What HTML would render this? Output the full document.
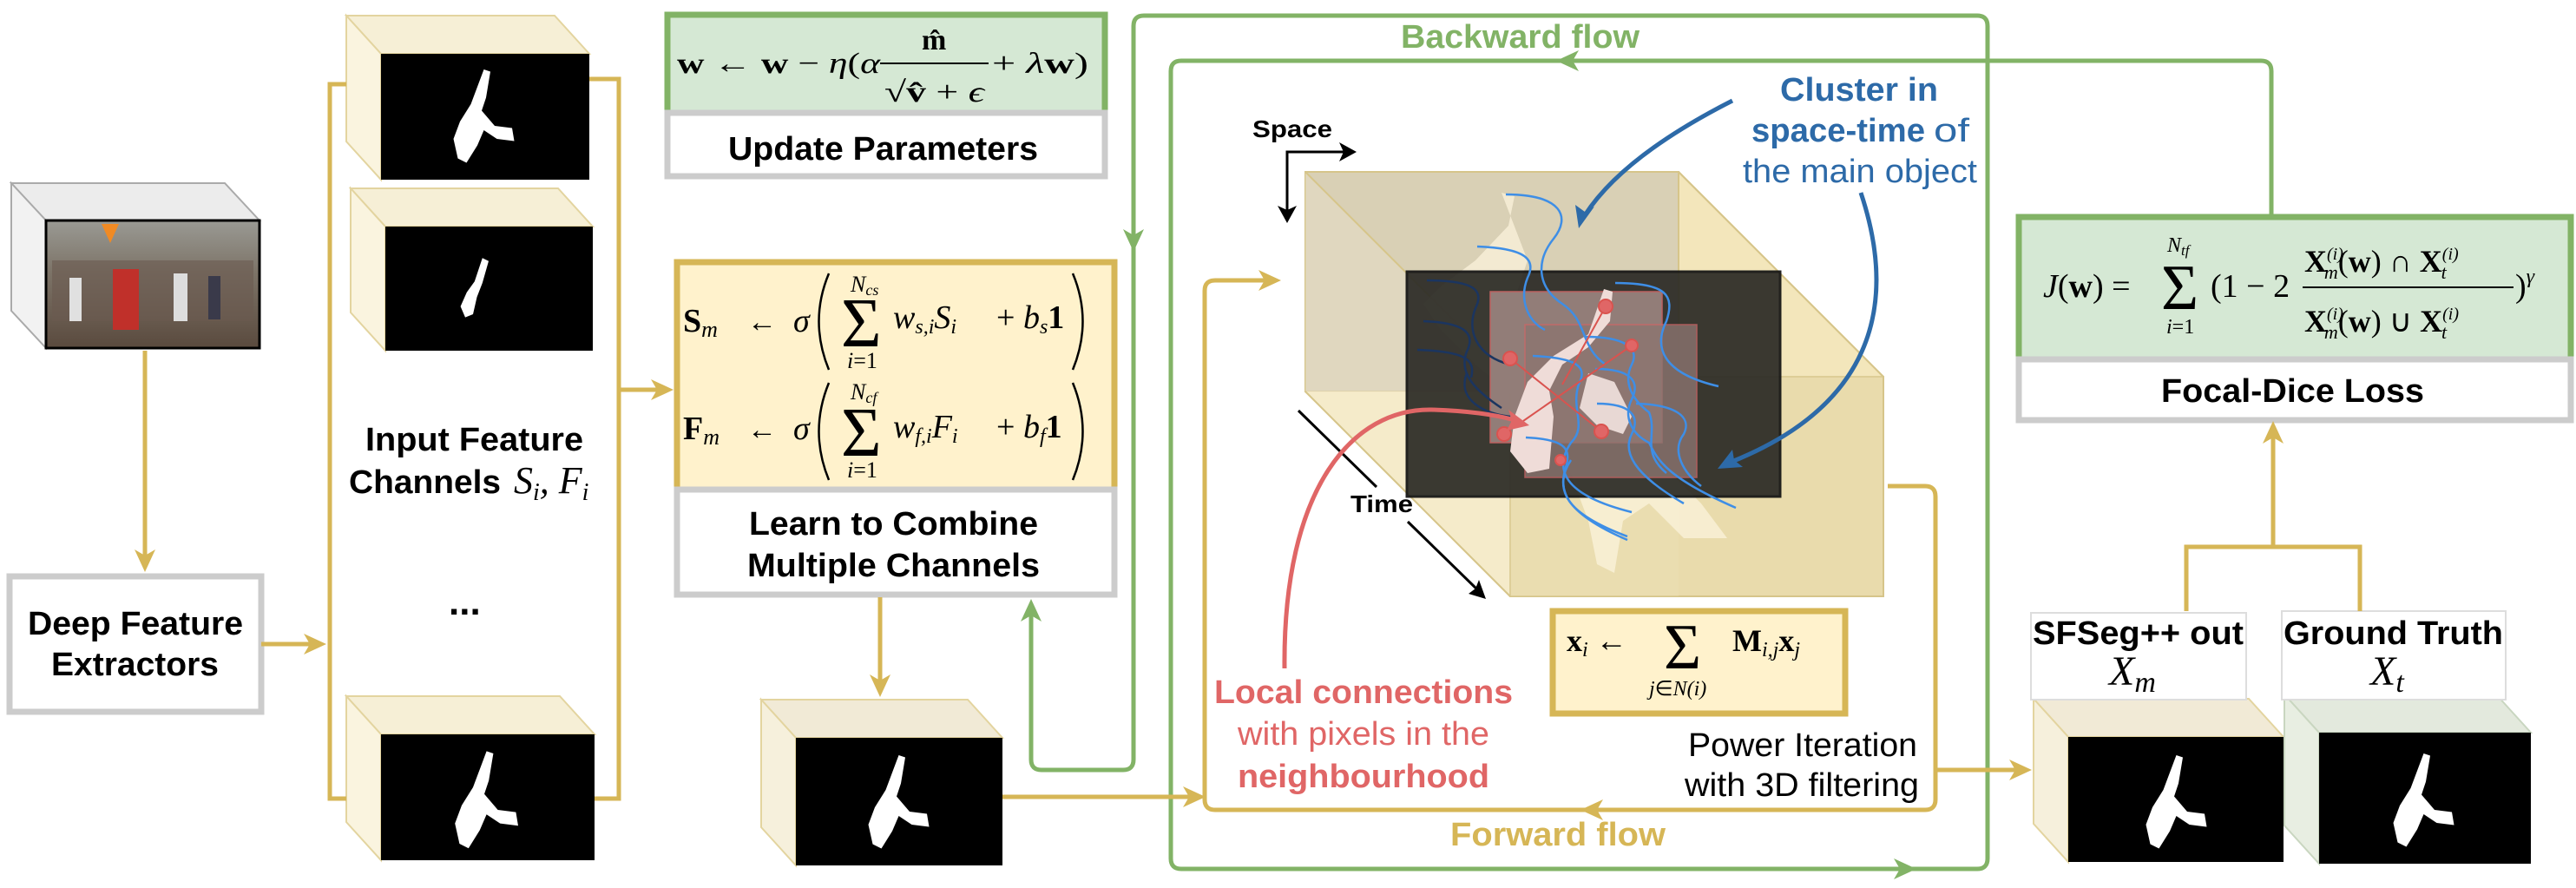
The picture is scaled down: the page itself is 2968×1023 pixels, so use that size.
<!DOCTYPE html>
<html><head><meta charset="utf-8"><style>
html,body{margin:0;padding:0;background:#fff}
svg{display:block}
.lb{font-family:"Liberation Sans",sans-serif;font-weight:bold;fill:#000}
.nw{font-weight:normal}
.m{font-family:"Liberation Serif",serif;fill:#000}
.i{font-style:italic}
.b{font-weight:bold}
</style></head><body>
<svg width="2968" height="1023" viewBox="0 0 2968 1023" xmlns="http://www.w3.org/2000/svg">
<defs>
<path id="sil" d="M62,8 L68,10 L64,34 L60,46 L72,60 L88,62 L90,74 L74,72 L62,64 L56,78 L46,94 L38,90 L34,72 L40,56 L50,40 L56,24 Z" fill="#fff"/>
<linearGradient id="photo" x1="0" y1="0" x2="0" y2="1"><stop offset="0" stop-color="#9a9a94"/><stop offset="0.4" stop-color="#7d7468"/><stop offset="1" stop-color="#5a4a3e"/></linearGradient>
</defs>

<!-- ===== video cube ===== -->
<polygon points="13,211 259,211 299,254 53,254" fill="#ececec" stroke="#aaa" stroke-width="2"/>
<polygon points="13,211 53,254 53,401 13,358" fill="#f2f2f2" stroke="#aaa" stroke-width="2"/>
<rect x="53" y="254" width="246" height="147" fill="url(#photo)" stroke="#000" stroke-width="3"/>
<rect x="60" y="300" width="232" height="70" fill="#6b5a50" opacity="0.6"/>
<rect x="130" y="310" width="30" height="70" fill="#c0302a"/>
<rect x="80" y="320" width="14" height="50" fill="#e0e0e0"/>
<rect x="200" y="315" width="16" height="55" fill="#ddd"/>
<rect x="240" y="318" width="14" height="50" fill="#3a3a4a"/>
<polygon points="117,258 137,258 127,280" fill="#f08a24"/>

<!-- ===== feature cubes ===== -->
<g stroke="#e3d49f" stroke-width="2">
<polygon points="399,18 639,18 679,62 439,62" fill="#f6efd6"/>
<polygon points="399,18 439,62 439,207 399,163" fill="#faf4df"/>
<polygon points="404,217 643,217 683,261 444,261" fill="#f6efd6"/>
<polygon points="404,217 444,261 444,404 404,360" fill="#faf4df"/>
<polygon points="399,802 645,802 685,846 439,846" fill="#f6efd6"/>
<polygon points="399,802 439,846 439,991 399,947" fill="#faf4df"/>
<polygon points="877,806 1115,806 1155,850 917,850" fill="#f1ead6"/>
<polygon points="877,806 917,850 917,997 877,953" fill="#f6f0dc"/>
<polygon points="2343,805 2591,805 2631,849 2383,849" fill="#f1ead6"/>
<polygon points="2343,805 2383,849 2383,993 2343,949" fill="#f6f0dc"/>
</g>
<g stroke="#c9d6c0" stroke-width="2">
<polygon points="2632,800 2876,800 2916,844 2672,844" fill="#e3e9dd"/>
<polygon points="2632,800 2672,844 2672,995 2632,951" fill="#e8eee2"/>
</g>
<rect x="439" y="62" width="240" height="145" fill="#000"/>
<rect x="444" y="261" width="239" height="143" fill="#000"/>
<rect x="439" y="846" width="246" height="145" fill="#000"/>
<rect x="917" y="850" width="238" height="147" fill="#000"/>
<rect x="2383" y="849" width="248" height="144" fill="#000"/>
<rect x="2672" y="844" width="244" height="151" fill="#000"/>
<use href="#sil" transform="translate(480,70) scale(1.25)"/>
<g transform="translate(500,290) scale(0.9)"><path d="M62,8 L70,12 L62,40 L55,58 L50,80 L40,84 L34,70 L42,52 L52,38 Z" fill="#fff"/></g>
<use href="#sil" transform="translate(480,855) scale(1.3)"/>
<use href="#sil" transform="translate(958,860) scale(1.25)"/>
<use href="#sil" transform="translate(2430,860) scale(1.25)"/>
<use href="#sil" transform="translate(2715,858) scale(1.25)"/>

<!-- ===== boxes ===== -->
<rect x="11" y="664" width="290" height="156" fill="#fff" stroke="#ccc" stroke-width="7"/>
<rect x="769" y="17" width="504" height="113" fill="#d5e8d4" stroke="#82b366" stroke-width="7"/>
<rect x="769" y="130" width="504" height="73" fill="#fff" stroke="#ccc" stroke-width="7"/>
<rect x="780" y="302" width="504" height="262" fill="#fff2cc" stroke="#d6b656" stroke-width="7"/>
<rect x="780" y="564" width="504" height="121" fill="#fff" stroke="#ccc" stroke-width="7"/>
<rect x="2326" y="250" width="636" height="164" fill="#d5e8d4" stroke="#82b366" stroke-width="7"/>
<rect x="2326" y="414" width="636" height="70" fill="#fff" stroke="#ccc" stroke-width="7"/>
<rect x="1789" y="704" width="337" height="118" fill="#fff2cc" stroke="#d6b656" stroke-width="7"/>
<rect x="2340" y="706" width="248" height="100" fill="#fff" stroke="#ddd" stroke-width="2"/>
<rect x="2629" y="704" width="258" height="102" fill="#fff" stroke="#ddd" stroke-width="2"/>

<!-- ===== 3D cube ===== -->
<polygon points="1504,198 1934,198 2170,434 2170,687 1740,687 1504,451" fill="#f3e6bb" stroke="#d6c58a" stroke-width="2"/>
<rect x="1504" y="198" width="430" height="253" fill="#d9d0b5" stroke="#d6c58a" stroke-width="2"/>
<polygon points="1504,451 1740,687 1740,434 1504,198" fill="#e4dcc6" opacity="0.6"/>
<polygon points="1504,451 1740,687 1934,687 1934,451" fill="#f8eecc" opacity="0.8"/>
<rect x="1740" y="434" width="430" height="253" fill="#e6d8a8" opacity="0.75" stroke="#d6c58a" stroke-width="2"/>
<line x1="1504" y1="198" x2="1740" y2="434" stroke="#d6c58a" stroke-width="2"/>
<line x1="1504" y1="451" x2="1740" y2="687" stroke="#d6c58a" stroke-width="2"/>
<line x1="1934" y1="198" x2="2170" y2="434" stroke="#d6c58a" stroke-width="2"/>
<path d="M1730,222 L1745,226 L1738,260 L1700,300 L1660,330 L1640,350 L1660,380 L1700,420 L1760,470 L1800,520 L1830,600 L1840,650 L1860,660 L1870,600 L1900,580 L1940,620 L1990,620 L1960,580 L1920,540 L1880,500 L1800,440 L1760,400 L1740,360 L1760,300 Z" fill="#fbf3dc" opacity="0.75"/>
<rect x="1621" y="313" width="430" height="259" fill="#2b2a25" opacity="0.92" stroke="#111" stroke-width="3"/>
<rect x="1717" y="336" width="198" height="174" fill="#9c8580" opacity="0.9" stroke="#c66" stroke-width="1.5"/>
<rect x="1757" y="374" width="198" height="176" fill="#8c7570" opacity="0.8" stroke="#c66" stroke-width="1.5"/>
<path d="M1848,333 L1858,336 L1855,370 L1830,400 L1800,420 L1785,450 L1790,480 L1785,540 L1760,545 L1740,520 L1745,480 L1760,440 L1790,410 L1830,385 Z" fill="#efdcd8"/>
<path d="M1830,430 L1860,440 L1880,480 L1870,500 L1840,490 L1820,470 Z" fill="#e8d8d4"/>
<g fill="none" stroke-width="2.5">
<g stroke="#3e8ee6">
<path d="M1735,224 C1800,224 1810,250 1790,275 C1770,300 1770,330 1800,350 C1830,370 1820,400 1850,420"/>
<path d="M1702,284 C1760,286 1770,300 1760,320 C1750,345 1760,370 1780,380"/>
<path d="M1861,326 C1920,326 1930,340 1920,370 C1905,400 1915,430 1980,445"/>
<path d="M1827,388 C1870,388 1890,400 1880,420 C1870,440 1880,460 1900,475 C1910,500 1890,520 1920,545"/>
<path d="M1766,410 C1810,412 1830,420 1820,440 C1808,470 1830,490 1810,510 C1790,540 1800,570 1880,590"/>
<path d="M1838,425 C1880,425 1890,440 1880,460 C1870,480 1880,500 1900,510 C1910,530 1920,550 2000,585"/>
<path d="M1840,465 C1880,465 1890,480 1880,500 C1870,520 1880,545 1940,580"/>
<path d="M1885,465 C1930,466 1950,480 1940,500 C1925,520 1940,545 1960,560"/>
<path d="M1758,504 C1800,506 1810,515 1805,535 C1795,565 1800,590 1875,618"/>
<path d="M1810,530 C1790,560 1800,590 1875,622"/>
</g>
<g stroke="#1b3560">
<path d="M1644,323 C1700,323 1710,335 1700,355 C1690,380 1700,410 1740,420"/>
<path d="M1640,370 C1690,372 1700,385 1690,405 C1680,430 1700,450 1730,470"/>
<path d="M1633,403 C1690,405 1700,415 1695,435"/>
<path d="M1690,430 C1680,455 1700,475 1740,480"/>
</g>
</g>
<g stroke="#d9534f" stroke-width="2" fill="#e06666">
<line x1="1850" y1="353" x2="1800" y2="443"/>
<line x1="1740" y1="413" x2="1845" y2="497"/>
<line x1="1880" y1="398" x2="1755" y2="485"/>
<circle cx="1850" cy="353" r="8"/><circle cx="1740" cy="413" r="8"/><circle cx="1880" cy="398" r="7"/>
<circle cx="1845" cy="497" r="8"/><circle cx="1733" cy="500" r="8"/><circle cx="1798" cy="530" r="6"/>
</g>

<!-- Space / Time axes -->
<g stroke="#000" stroke-width="3" fill="none">
<path d="M1483,254 V175 H1552"/>
<line x1="1496" y1="473" x2="1586" y2="561"/>
<line x1="1622" y1="601" x2="1704" y2="681"/>
</g>
<polygon points="1563,175 1543,164 1548,175 1543,186" fill="#000"/>
<polygon points="1483,257 1472,237 1483,242 1494,237" fill="#000"/>
<polygon points="1712,690 1692,684 1700,678 1704,668" fill="#000"/>

<!-- blue arrows -->
<g fill="none" stroke="#2d6aa8" stroke-width="5">
<path d="M1996,116 Q1870,180 1826,248"/>
<path d="M2144,222 C2190,360 2150,470 1995,532"/>
</g>
<polygon points="1819,263 1815,236 1826,244 1837,238" fill="#2d6aa8"/>
<polygon points="1979,540 1996,518 1998,530 2008,538" fill="#2d6aa8"/>
<!-- red arrow -->
<path d="M1480,770 C1478,560 1560,470 1650,472 Q1710,474 1745,484" fill="none" stroke="#e06666" stroke-width="5"/>
<polygon points="1762,490 1736,496 1742,484 1738,472" fill="#e06666"/>

<!-- ===== connectors ===== -->
<g fill="none" stroke="#82b366" stroke-width="5">
<path d="M2617,247 V82 Q2617,70 2605,70 H1361 Q1349,70 1349,82 V989 Q1349,1001 1361,1001 H2278 Q2290,1001 2290,989 V30 Q2290,18 2278,18 H1318 Q1306,18 1306,30 V875 Q1306,887 1294,887 H1200 Q1188,887 1188,875 V705"/>
</g>
<g fill="#82b366">
<polygon points="1306,290 1294,264 1306,271 1318,264"/>
<polygon points="1793,70 1819,58 1812,70 1819,82"/>
<polygon points="2208,1001 2182,989 2189,1001 2182,1013"/>
<polygon points="1188,690 1176,716 1188,709 1200,716"/>
</g>
<g fill="none" stroke="#d6b656" stroke-width="5">
<path d="M167,404 V645"/>
<path d="M301,742 H362"/>
<path d="M399,97 H380 V920 H399"/>
<path d="M679,91 H713 V920 H685"/>
<path d="M713,449 H762"/>
<path d="M1014,688 V790"/>
<path d="M1155,918 H1375"/>
<path d="M1462,323 H1400 Q1388,323 1388,335 V921 Q1388,933 1400,933 H2218 Q2230,933 2230,921 V572 Q2230,560 2218,560 H2175"/>
<path d="M2230,887 H2327"/>
<path d="M2619,630 V498"/>
<path d="M2519,704 V630 H2719 V704"/>
</g>
<g fill="#d6b656">
<polygon points="167,659 155,633 167,640 179,633"/>
<polygon points="376,742 350,730 357,742 350,754"/>
<polygon points="776,449 750,437 757,449 750,461"/>
<polygon points="1014,803 1002,777 1014,784 1026,777"/>
<polygon points="1389,918 1363,906 1370,918 1363,930"/>
<polygon points="1476,323 1450,311 1457,323 1450,335"/>
<polygon points="1821,933 1847,921 1840,933 1847,945"/>
<polygon points="2341,887 2315,875 2322,887 2315,899"/>
<polygon points="2619,485 2607,511 2619,504 2631,511"/>
</g>

<!-- ===== labels ===== -->
<g font-size="38">
<text class="lb" x="1443" y="158" font-size="28" textLength="92" lengthAdjust="spacingAndGlyphs">Space</text>
<text class="lb" x="1556" y="590" font-size="28" textLength="72" lengthAdjust="spacingAndGlyphs">Time</text>
<text class="lb" x="32" y="731" textLength="248" lengthAdjust="spacingAndGlyphs">Deep Feature</text>
<text class="lb" x="59" y="778" textLength="193" lengthAdjust="spacingAndGlyphs">Extractors</text>
<text class="lb" x="421" y="519" textLength="251" lengthAdjust="spacingAndGlyphs">Input Feature</text>
<text class="lb" x="402" y="568" textLength="175" lengthAdjust="spacingAndGlyphs">Channels</text>
<text class="m i" x="592" y="568" font-size="44">S<tspan font-size="28" dy="8">i</tspan><tspan dy="-8">, F</tspan><tspan font-size="28" dy="8">i</tspan></text>
<text class="lb" x="517" y="708" font-size="44">...</text>
<text class="lb" x="839" y="184" textLength="357" lengthAdjust="spacingAndGlyphs">Update Parameters</text>
<text class="lb" x="863" y="616" textLength="333" lengthAdjust="spacingAndGlyphs">Learn to Combine</text>
<text class="lb" x="861" y="664" textLength="337" lengthAdjust="spacingAndGlyphs">Multiple Channels</text>
<text class="lb" x="1614" y="55" style="fill:#82b366" textLength="275" lengthAdjust="spacingAndGlyphs">Backward flow</text>
<text class="lb" x="1671" y="974" style="fill:#d6b656" textLength="248" lengthAdjust="spacingAndGlyphs">Forward flow</text>
<text class="lb" x="2051" y="116" style="fill:#2d6aa8" textLength="182" lengthAdjust="spacingAndGlyphs">Cluster in</text>
<text class="lb" x="2018" y="163" style="fill:#2d6aa8" textLength="200" lengthAdjust="spacingAndGlyphs">space-time</text>
<text class="lb nw" x="2228" y="163" style="fill:#2d6aa8" textLength="41" lengthAdjust="spacingAndGlyphs">of</text>
<text class="lb nw" x="2008" y="210" style="fill:#2d6aa8" textLength="270" lengthAdjust="spacingAndGlyphs">the main object</text>
<text class="lb" x="1399" y="810" style="fill:#e06666" textLength="344" lengthAdjust="spacingAndGlyphs">Local connections</text>
<text class="lb nw" x="1426" y="858" style="fill:#e06666" textLength="290" lengthAdjust="spacingAndGlyphs">with pixels in the</text>
<text class="lb" x="1426" y="907" style="fill:#e06666" textLength="290" lengthAdjust="spacingAndGlyphs">neighbourhood</text>
<text class="lb nw" x="1945" y="871" textLength="264" lengthAdjust="spacingAndGlyphs">Power Iteration</text>
<text class="lb nw" x="1941" y="917" textLength="270" lengthAdjust="spacingAndGlyphs">with 3D filtering</text>
<text class="lb" x="2490" y="463" textLength="303" lengthAdjust="spacingAndGlyphs">Focal-Dice Loss</text>
<text class="lb" x="2342" y="742" textLength="243" lengthAdjust="spacingAndGlyphs">SFSeg++ out</text>
<text class="m i" x="2430" y="789" font-size="48">X<tspan font-size="34" dy="8">m</tspan></text>
<text class="lb" x="2631" y="742" textLength="253" lengthAdjust="spacingAndGlyphs">Ground Truth</text>
<text class="m i" x="2731" y="789" font-size="48">X<tspan font-size="34" dy="8">t</tspan></text>
</g>

<!-- ===== formulas ===== -->
<g font-size="34">
<text class="m" x="780" y="84" textLength="234" lengthAdjust="spacingAndGlyphs"><tspan class="b">w</tspan> ← <tspan class="b">w</tspan> − <tspan class="i">η</tspan>(<tspan class="i">α</tspan></text>
<line x1="1014" y1="73" x2="1139" y2="73" stroke="#000" stroke-width="2"/>
<text class="m b" x="1062" y="57">m̂</text>
<text class="m" x="1019" y="117" textLength="115" lengthAdjust="spacingAndGlyphs">√<tspan class="b">v̂</tspan> + <tspan class="i">ϵ</tspan></text>
<text class="m" x="1143" y="84" textLength="111" lengthAdjust="spacingAndGlyphs">+ <tspan class="i">λ</tspan><tspan class="b">w</tspan>)</text>

<text class="m" x="787" y="382" font-size="38"><tspan class="b">S</tspan><tspan class="i" font-size="26" dy="6">m</tspan></text>
<text class="m" x="861" y="382">←</text><text class="m i" x="914" y="382" font-size="38">σ</text>
<path d="M955,315 Q932,370 955,426" fill="none" stroke="#000" stroke-width="2.5"/>
<text class="m" x="969" y="399" font-size="80">Σ</text>
<text class="m i" x="980" y="336" font-size="26">N<tspan font-size="18" dy="4">cs</tspan></text>
<text class="m i" x="976" y="424" font-size="26">i<tspan font-style="normal">=1</tspan></text>
<text class="m i" x="1029" y="378" font-size="38">w<tspan font-size="24" dy="6">s,i</tspan><tspan dy="-6">S</tspan><tspan font-size="24" dy="6">i</tspan></text>
<text class="m" x="1148" y="378" font-size="38">+ <tspan class="i">b</tspan><tspan class="i" font-size="24" dy="6">s</tspan><tspan class="b" dy="-6">1</tspan></text>
<path d="M1236,315 Q1259,370 1236,426" fill="none" stroke="#000" stroke-width="2.5"/>
<text class="m" x="787" y="506" font-size="38"><tspan class="b">F</tspan><tspan class="i" font-size="26" dy="6">m</tspan></text>
<text class="m" x="861" y="506">←</text><text class="m i" x="914" y="506" font-size="38">σ</text>
<path d="M955,441 Q932,497 955,553" fill="none" stroke="#000" stroke-width="2.5"/>
<text class="m" x="969" y="525" font-size="80">Σ</text>
<text class="m i" x="980" y="460" font-size="26">N<tspan font-size="18" dy="4">cf</tspan></text>
<text class="m i" x="976" y="550" font-size="26">i<tspan font-style="normal">=1</tspan></text>
<text class="m i" x="1029" y="504" font-size="38">w<tspan font-size="24" dy="6">f,i</tspan><tspan dy="-6">F</tspan><tspan font-size="24" dy="6">i</tspan></text>
<text class="m" x="1148" y="504" font-size="38">+ <tspan class="i">b</tspan><tspan class="i" font-size="24" dy="6">f</tspan><tspan class="b" dy="-6">1</tspan></text>
<path d="M1236,441 Q1259,497 1236,553" fill="none" stroke="#000" stroke-width="2.5"/>

<text class="m" x="1805" y="750" font-size="36"><tspan class="b">x</tspan><tspan class="i" font-size="24" dy="6">i</tspan><tspan dy="-6"> ←</tspan></text>
<text class="m" x="1917" y="770" font-size="74">Σ</text>
<text class="m i" x="1900" y="801" font-size="24">j<tspan font-style="normal">∈</tspan>N(i)</text>
<text class="m" x="1996" y="750" font-size="36"><tspan class="b">M</tspan><tspan class="i" font-size="24" dy="6">i,j</tspan><tspan class="b" dy="-6">x</tspan><tspan class="i" font-size="24" dy="6">j</tspan></text>

<text class="m" x="2354" y="342" font-size="38"><tspan class="i">J</tspan>(<tspan class="b">w</tspan>) =</text>
<text class="m" x="2490" y="356" font-size="74">Σ</text>
<text class="m i" x="2497" y="290" font-size="24">N<tspan font-size="17" dy="4">tf</tspan></text>
<text class="m i" x="2496" y="384" font-size="24">i<tspan font-style="normal">=1</tspan></text>
<text class="m" x="2547" y="342" font-size="38">(1 − 2</text>
<line x1="2653" y1="331" x2="2896" y2="331" stroke="#000" stroke-width="2"/>
<text class="m" x="2655" y="313" font-size="36"><tspan class="b">X</tspan><tspan class="i" font-size="20" dy="-14">(i)</tspan><tspan class="i" font-size="22" dx="-22" dy="22">m</tspan><tspan dy="-8">(</tspan><tspan class="b">w</tspan>) ∩ <tspan class="b">X</tspan><tspan class="i" font-size="20" dy="-14">(i)</tspan><tspan class="i" font-size="22" dx="-20" dy="22">t</tspan></text>
<text class="m" x="2655" y="382" font-size="36"><tspan class="b">X</tspan><tspan class="i" font-size="20" dy="-14">(i)</tspan><tspan class="i" font-size="22" dx="-22" dy="22">m</tspan><tspan dy="-8">(</tspan><tspan class="b">w</tspan>) ∪ <tspan class="b">X</tspan><tspan class="i" font-size="20" dy="-14">(i)</tspan><tspan class="i" font-size="22" dx="-20" dy="22">t</tspan></text>
<text class="m" x="2898" y="342" font-size="38">)<tspan class="i" font-size="24" dy="-16">γ</tspan></text>
</g>
</svg>
</body></html>
